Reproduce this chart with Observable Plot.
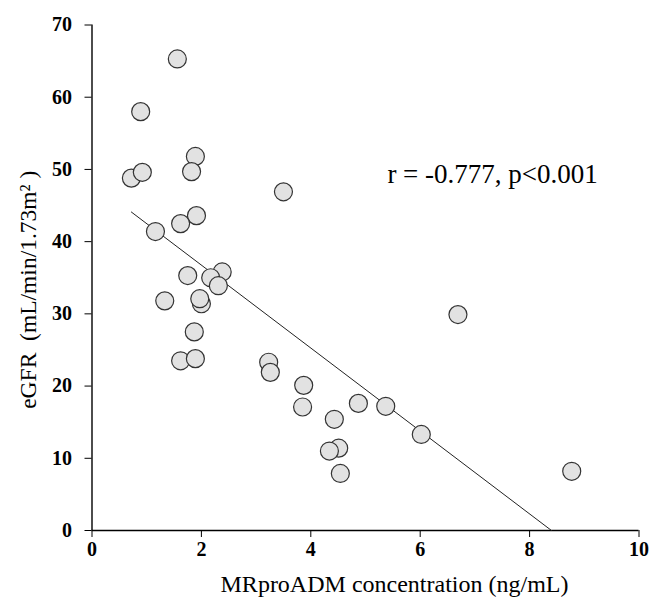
<!DOCTYPE html>
<html>
<head>
<meta charset="utf-8">
<script src="https://cdn.jsdelivr.net/npm/d3@7"></script>
<script src="https://cdn.jsdelivr.net/npm/@observablehq/plot@0.6"></script>
<style>
html, body { margin: 0; padding: 0; background: #fff; }
</style>
</head>
<body>
<div id="chart"></div>
<script>
const mrproadm = [1.56, 0.89, 0.72, 0.92, 1.89, 1.82, 3.50, 1.91, 1.62, 1.16, 6.69, 1.75, 2.38, 2.17, 2.31, 1.33, 2.00, 1.97, 1.87, 1.62, 1.89, 3.23, 3.26, 3.87, 3.85, 4.87, 5.37, 4.43, 6.02, 4.51, 4.34, 4.54, 8.77];
const egfr     = [65.3, 58.0, 48.8, 49.6, 51.8, 49.7, 46.9, 43.6, 42.5, 41.4, 29.9, 35.3, 35.8, 35.0, 33.9, 31.8, 31.4, 32.1, 27.5, 23.5, 23.8, 23.3, 21.9, 20.1, 17.1, 17.6, 17.2, 15.4, 13.3, 11.4, 11.0, 7.9, 8.2];
const fitX = [0.72, 8.4];
const fitY = [44.1, 0];
const xTicks = [0, 2, 4, 6, 8, 10];
const yTicks = [0, 10, 20, 30, 40, 50, 60, 70];
const annotation = "r = -0.777, p<0.001";
const xTitle = "MRproADM concentration (ng/mL)";
const yTitle = "eGFR\u00A0\u00A0(mL/min/1.73m\u00B2\u00A0)";

const points = mrproadm.map((x, i) => ({x, y: egfr[i]}));
const fit = fitX.map((x, i) => ({x, y: fitY[i]}));

const chart = Plot.plot({
  width: 649,
  height: 604,
  marginLeft: 91.5,
  marginRight: 10.5,
  marginTop: 24.5,
  marginBottom: 74,
  style: {fontFamily: "'Liberation Serif', 'Times New Roman', serif", color: "black", background: "white"},
  x: {domain: [0, 10]},
  y: {domain: [0, 70]},
  marks: [
    Plot.axisX({ticks: xTicks, tickSize: 7, tickPadding: 4, fontSize: 20, fontWeight: "bold", label: null, stroke: "black"}),
    Plot.axisY({ticks: yTicks, tickSize: 7, tickPadding: 13, fontSize: 20, fontWeight: "bold", label: null, stroke: "black"}),
    Plot.ruleX([0], {stroke: "black", strokeWidth: 1.4}),
    Plot.ruleY([0], {stroke: "black", strokeWidth: 1.4}),
    Plot.line(fit, {x: "x", y: "y", stroke: "#222", strokeWidth: 1}),
    Plot.dot(points, {x: "x", y: "y", r: 9, fill: "#e2e2e2", stroke: "#333", strokeWidth: 1.2}),
    Plot.text([annotation], {x: 5.4, y: 49.3, textAnchor: "start", fontSize: 27, fill: "black"}),
    Plot.text([xTitle], {frameAnchor: "bottom", textAnchor: "middle", dx: 29, dy: 61, fontSize: 24, fill: "black"}),
    Plot.text([yTitle], {frameAnchor: "left", textAnchor: "middle", dx: -64, dy: 12, rotate: -90, fontSize: 23.5, fill: "black"})
  ]
});
document.getElementById("chart").appendChild(chart);
</script>
</body>
</html>
